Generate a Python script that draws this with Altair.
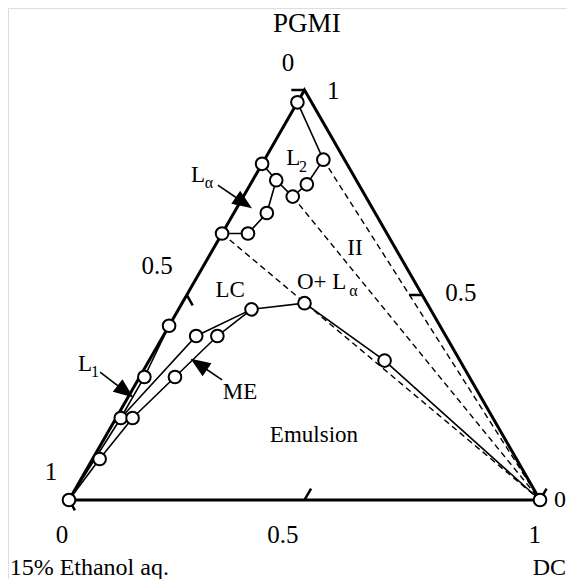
import altair as alt
import pandas as pd
import numpy as np

# ---- data: ternary compositions (fraction DC, fraction PGMI) ----
pt_id = list(range(1, 23))
dc_frac = [0.0, 0.0, 0.125, 0.12, 0.105, 0.05, 0.07, 0.055, 0.0, 0.155, 0.26, 0.50,
           0.0, 0.07, 0.115, 0.01, 0.075, 0.01, 0.035, 0.015, 0.0, 1.0]
pgmi_frac = [0.97, 0.82, 0.83, 0.77, 0.74, 0.78, 0.70, 0.65, 0.65, 0.465, 0.48, 0.34,
             0.425, 0.40, 0.40, 0.30, 0.30, 0.20, 0.20, 0.10, 0.0, 0.0]

# phase boundaries (sequences of point ids)
solid_paths = {
    "L2": [1, 3, 4, 5, 6, 2],
    "La": [6, 7, 8, 9],
    "upper": [10, 11, 12, 22],
    "ME_low": [21, 20, 19, 17, 15, 10],
    "ME_up": [18, 14, 10],
    "L1": [13, 16, 18, 21],
}
tie_lines = {"t1": [9, 22], "t2": [5, 22], "t3": [3, 22]}

# triangle corners (dc, pgmi)
corner_dc = [0.0, 1.0, 0.0, 0.0]
corner_pgmi = [0.0, 0.0, 1.0, 0.0]

# axis ticks: (dc, pgmi) start, and direction type
tick_dc = [0.5, 1.0, 0.5, 0.0, 0.0, 0.0]
tick_pgmi = [0.0, 0.0, 0.5, 1.0, 0.5, 0.0]
tick_dir = ["dc", "dc", "pgmi", "pgmi", "eth", "eth"]

# ---- helpers ----
def tx(d, p):
    return d + p / 2.0

P = pd.DataFrame({"id": pt_id, "dc": dc_frac, "pgmi": pgmi_frac})
P["X"] = tx(P.dc, P.pgmi)
P["Y"] = P.pgmi
lookup = P.set_index("id")

def path_df(paths):
    rows = []
    for name, ids in paths.items():
        for k, i in enumerate(ids):
            rows.append({"series": name, "k": k, "X": lookup.loc[i, "X"], "Y": lookup.loc[i, "Y"]})
    return pd.DataFrame(rows)

solid_df = path_df(solid_paths)
tie_df = path_df(tie_lines)
tri_df = pd.DataFrame({"k": range(4), "X": [tx(d, p) for d, p in zip(corner_dc, corner_pgmi)],
                       "Y": corner_pgmi})

T = 0.028
trows = []
for d, p, kind in zip(tick_dc, tick_pgmi, tick_dir):
    if kind == "dc":
        d2, p2 = d, p + T
    elif kind == "pgmi":
        d2, p2 = d - T, p
    else:
        d2, p2 = d + T * 0.9, p - T * 0.9
    trows.append({"X": tx(d, p), "Y": p, "X2": tx(d2, p2), "Y2": p2})
tick_df = pd.DataFrame(trows)

# scales: plot units -> pixels
xs = alt.Scale(domain=[-0.1295, 1.0573], nice=False, zero=False)
ys = alt.Scale(domain=[-0.1927, 1.2], nice=False, zero=False)
PXX, PXY = 471.0, 410.0

def enc_xy():
    return dict(x=alt.X("X:Q", scale=xs, axis=None), y=alt.Y("Y:Q", scale=ys, axis=None))

FONT = "Liberation Serif"

triangle = alt.Chart(tri_df).mark_line(color="black", strokeWidth=3, strokeJoin="miter").encode(
    order="k:O", **enc_xy())
ticks = alt.Chart(tick_df).mark_rule(color="black", strokeWidth=2.5).encode(
    x=alt.X("X:Q", scale=xs, axis=None), y=alt.Y("Y:Q", scale=ys, axis=None), x2="X2:Q", y2="Y2:Q")
solid = alt.Chart(solid_df).mark_line(color="black", strokeWidth=1.6).encode(
    detail="series:N", order="k:O", **enc_xy())
ties = alt.Chart(tie_df).mark_line(color="black", strokeWidth=1.4, strokeDash=[6, 4]).encode(
    detail="series:N", order="k:O", **enc_xy())
points = alt.Chart(P).mark_point(shape="circle", filled=True, fill="white", stroke="black",
                                 strokeWidth=2, size=160, opacity=1).encode(**enc_xy())

# annotations (text, X, Y in plot units)
title_df = pd.DataFrame({"t": ["PGMI"], "X": [0.505], "Y": [1.161]})
tlabel = alt.Chart(title_df).mark_text(font=FONT, fontSize=27, baseline="middle", align="center",
                                       color="black").encode(text="t:N", **enc_xy())
lab_text = ["0", "1", "0.5", "1", "0.5", "0", "0.5", "1"]
lab_X = [0.465, 0.561, 0.187, -0.038, 0.832, -0.015, 0.454, 0.989]
lab_Y = [1.066, 0.998, 0.571, 0.068, 0.505, -0.085, -0.085, -0.085]
labels = alt.Chart(pd.DataFrame({"t": lab_text, "X": lab_X, "Y": lab_Y})).mark_text(
    font=FONT, fontSize=25, baseline="middle", align="center", color="black").encode(
    text="t:N", **enc_xy())
l_df = pd.DataFrame({"t": ["15% Ethanol aq."], "X": [-0.126], "Y": [-0.166]})
llabels = alt.Chart(l_df).mark_text(font=FONT, fontSize=24, baseline="middle", align="left",
                                    color="black").encode(text="t:N", **enc_xy())
r_df = pd.DataFrame({"t": ["0", "DC"], "X": [1.0573, 1.0573], "Y": [0.0, -0.166]})
rlabels = alt.Chart(r_df).mark_text(font=FONT, fontSize=24, baseline="middle", align="right",
                                    dx=-1, color="black").encode(text="t:N", **enc_xy())

reg_text = ["L", "L", "L", "LC", "II", "ME", "Emulsion"]
reg_X = [0.476, 0.274, 0.034, 0.342, 0.607, 0.363, 0.520]
reg_Y = [0.834, 0.793, 0.332, 0.512, 0.615, 0.263, 0.159]
regions = alt.Chart(pd.DataFrame({"t": reg_text, "X": reg_X, "Y": reg_Y})).mark_text(
    font=FONT, fontSize=23, baseline="middle", align="center", color="black").encode(
    text="t:N", **enc_xy())
ol_df = pd.DataFrame({"t": ["O+ L"], "X": [0.484], "Y": [0.532]})
olabel = alt.Chart(ol_df).mark_text(font=FONT, fontSize=23, baseline="middle", align="left",
                                    color="black").encode(text="t:N", **enc_xy())
sub_text = ["2", "α", "1", "α"]
sub_X = [0.497, 0.297, 0.055, 0.604]
sub_Y = [0.813, 0.774, 0.313, 0.510]
subs = alt.Chart(pd.DataFrame({"t": sub_text, "X": sub_X, "Y": sub_Y})).mark_text(
    font=FONT, fontSize=16, baseline="middle", align="center", color="black").encode(
    text="t:N", **enc_xy())

# arrows: start and tip in plot units
arr_X0 = [0.316, 0.066, 0.325]
arr_Y0 = [0.768, 0.312, 0.293]
arr_X1 = [0.384, 0.132, 0.263]
arr_Y1 = [0.715, 0.254, 0.341]
arows = []
for x0, y0, x1, y1 in zip(arr_X0, arr_Y0, arr_X1, arr_Y1):
    dxp, dyp = (x1 - x0) * PXX, -(y1 - y0) * PXY  # screen px, y down
    L = np.hypot(dxp, dyp)
    ux, uy = dxp / L, dyp / L
    ang = float(np.degrees(np.arctan2(ux, -uy))) % 360
    back = 8.0
    arows.append({"X": x0, "Y": y0, "X2": x1 - ux * 10 / PXX, "Y2": y1 + uy * 10 / PXY,
                  "HX": x1 - ux * back / PXX, "HY": y1 + uy * back / PXY, "ang": ang})
arr_df = pd.DataFrame(arows)
arr_lines = alt.Chart(arr_df).mark_rule(color="black", strokeWidth=1.6).encode(
    x=alt.X("X:Q", scale=xs, axis=None), y=alt.Y("Y:Q", scale=ys, axis=None), x2="X2:Q", y2="Y2:Q")
heads = alt.Chart(arr_df).mark_point(shape="M0,-1L0.8,1L-0.8,1Z", filled=True, fill="black",
                                     stroke="black", size=260, opacity=1).encode(
    x=alt.X("HX:Q", scale=xs, axis=None), y=alt.Y("HY:Q", scale=ys, axis=None),
    angle=alt.Angle("ang:Q", scale=None))

chart = alt.layer(triangle, ticks, ties, solid, points, arr_lines, heads, tlabel, labels, llabels,
                  rlabels, regions, olabel, subs).properties(
    width=559, height=571, autosize=alt.AutoSizeParams(type="none"), padding=0
).configure_view(stroke=None).configure(background="white", font=FONT).configure_text(font=FONT)

chart.save("out.html", embed_options={"renderer": "svg", "actions": False})
